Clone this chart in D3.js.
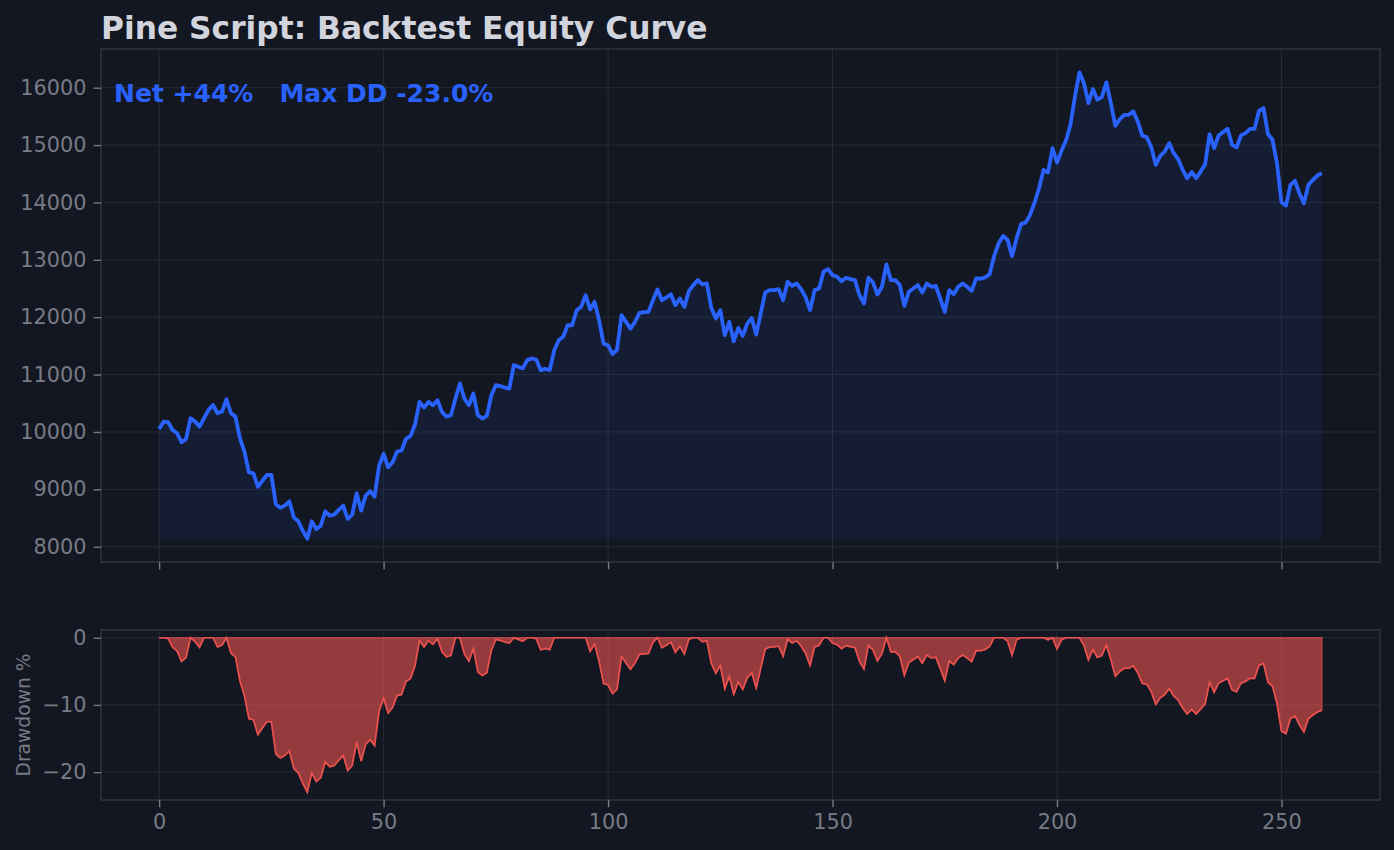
<!DOCTYPE html>
<html>
<head>
<meta charset="utf-8">
<script src="https://cdn.jsdelivr.net/npm/d3@7"></script>
<style>
  html, body { margin: 0; padding: 0; background: #131722; }
  svg { display: block; }
</style>
</head>
<body>
<svg id="chart" width="1394" height="850"></svg>
<script>
// equity per bar
var equity = [
  10052, 10180, 10170, 10035, 9977, 9820, 9878, 10240, 10180, 10093,
  10240, 10384, 10471, 10326, 10355, 10570, 10326, 10268, 9890, 9656,
  9296, 9279, 9045, 9150, 9250, 9250, 8740, 8680, 8716, 8792,
  8512, 8443, 8280, 8140, 8443, 8309, 8367, 8617, 8541, 8559,
  8641, 8716, 8483, 8559, 8931, 8629, 8890, 8966, 8873, 9415,
  9619, 9386, 9473, 9659, 9677, 9881, 9930, 10130, 10524, 10425,
  10524, 10466, 10553, 10349, 10268, 10291, 10582, 10844, 10582, 10466,
  10670, 10291, 10233, 10280, 10640, 10815, 10800, 10774, 10756, 11165,
  11135, 11107, 11252, 11281, 11263, 11077, 11100, 11080, 11420, 11600,
  11660, 11860, 11860, 12122, 12180, 12384, 12134, 12268, 11948, 11540,
  11511, 11354, 11435, 12035, 11918, 11802, 11918, 12076, 12087, 12093,
  12297, 12483, 12297, 12344, 12400, 12210, 12326, 12180, 12454, 12559,
  12646, 12570, 12588, 12163, 11977, 12122, 11686, 11918, 11581, 11813,
  11674, 11889, 11988, 11697, 12064, 12431, 12472, 12472, 12489, 12297,
  12617, 12547, 12588, 12490, 12350, 12122, 12472, 12501, 12792, 12838,
  12734, 12705, 12629, 12687, 12664, 12646, 12384, 12239, 12687, 12606,
  12396, 12530, 12920, 12646, 12646, 12559, 12198, 12443, 12501, 12559,
  12431, 12588, 12530, 12545, 12326, 12093, 12472, 12402, 12530, 12588,
  12530, 12460, 12676, 12670, 12693, 12751, 13066, 13287, 13415, 13345,
  13066, 13374, 13624, 13648, 13782, 13997, 14248, 14568, 14521, 14946,
  14696, 14900, 15080, 15354, 15848, 16268, 16081, 15732, 15977, 15790,
  15837, 16093, 15732, 15336, 15453, 15528, 15528, 15587, 15412, 15162,
  15138, 14964, 14655, 14812, 14888, 15034, 14859, 14754, 14568, 14422,
  14530, 14422, 14538, 14667, 15191, 14946, 15168, 15226, 15284, 15004,
  14958, 15168, 15209, 15284, 15284, 15598, 15645, 15191, 15092, 14684,
  14003, 13945, 14306, 14376, 14160, 13986, 14306, 14393, 14469, 14510
];
var xTicks = [0, 50, 100, 150, 200, 250];
var eqTicks = [8000, 9000, 10000, 11000, 12000, 13000, 14000, 15000, 16000];
var ddTicks = [0, -10, -20];
var titleText = "Pine Script: Backtest Equity Curve";
var ddLabel = "Drawdown %";

// drawdown % from running peak
var peak = -Infinity;
var drawdown = equity.map(function (v) {
  peak = Math.max(peak, v);
  return (v / peak - 1) * 100;
});
var bars = d3.range(equity.length);

var BG = "#131722", GRID = "#272b36", SPINE = "#2e323e", TICK = "#787b86";
var BLUE = "#2962ff", RED = "#ef5350";
var FONT = "DejaVu Sans, Verdana, sans-serif";

var svg = d3.select("#chart");
svg.append("rect").attr("width", 1394).attr("height", 850).attr("fill", BG);

var L = 101, R = 1380;
var top1 = 49, bot1 = 562, top2 = 630, bot2 = 800;

// matplotlib style 5% margins
function padded(lo, hi) {
  var m = (hi - lo) * 0.05;
  return [lo - m, hi + m];
}
var x = d3.scaleLinear().domain(padded(0, equity.length - 1)).range([L, R]);
var yEq = d3.scaleLinear().domain(padded(d3.min(equity), d3.max(equity))).range([bot1, top1]);
var yDd = d3.scaleLinear().domain(padded(d3.min(drawdown), 0)).range([bot2, top2]);

function grid(g, yScale, yVals, y0, y1) {
  g.selectAll(".gx").data(xTicks).enter().append("line")
    .attr("x1", function (d) { return x(d); }).attr("x2", function (d) { return x(d); })
    .attr("y1", y0).attr("y2", y1)
    .attr("stroke", GRID).attr("stroke-width", 1);
  g.selectAll(".gy").data(yVals).enter().append("line")
    .attr("x1", L).attr("x2", R)
    .attr("y1", function (d) { return yScale(d); }).attr("y2", function (d) { return yScale(d); })
    .attr("stroke", GRID).attr("stroke-width", 1);
}

function styleAxis(g) {
  g.select(".domain").remove();
  g.selectAll(".tick line").attr("stroke", TICK).attr("stroke-width", 1.4);
  g.selectAll(".tick text").attr("fill", TICK).style("font-family", FONT).style("font-size", "20.8px");
}

// ---- equity panel
var p1 = svg.append("g");
grid(p1, yEq, eqTicks, top1, bot1);

var base = d3.min(equity);
p1.append("path")
  .datum(bars)
  .attr("d", d3.area()
    .x(function (i) { return x(i); })
    .y0(yEq(base))
    .y1(function (i) { return yEq(equity[i]); }))
  .attr("fill", BLUE).attr("fill-opacity", 0.08);

p1.append("path")
  .datum(bars)
  .attr("d", d3.line()
    .x(function (i) { return x(i); })
    .y(function (i) { return yEq(equity[i]); }))
  .attr("fill", "none").attr("stroke", BLUE).attr("stroke-width", 3.8)
  .attr("stroke-linejoin", "round").attr("stroke-linecap", "butt");

p1.append("rect").attr("x", L).attr("y", top1).attr("width", R - L).attr("height", bot1 - top1)
  .attr("fill", "none").attr("stroke", SPINE).attr("stroke-width", 1.6);

p1.append("g").attr("transform", "translate(" + L + ",0)")
  .call(d3.axisLeft(yEq).tickValues(eqTicks).tickSize(7.3).tickPadding(7.3).tickFormat(d3.format("d")))
  .call(styleAxis);
p1.append("g").attr("transform", "translate(0," + bot1 + ")")
  .call(d3.axisBottom(x).tickValues(xTicks).tickSize(7.3).tickFormat(""))
  .call(styleAxis);

var net = equity[equity.length - 1] / equity[0] - 1;
var maxDd = d3.min(drawdown);
p1.append("text")
  .attr("x", 114).attr("y", 102)
  .attr("fill", BLUE)
  .style("font-family", FONT).style("font-weight", "bold").style("font-size", "25px")
  .attr("xml:space", "preserve")
  .text("Net " + d3.format("+.0%")(net) + "   Max DD " + d3.format(".1f")(maxDd).replace("\u2212", "-") + "%");

svg.append("text")
  .attr("x", L).attr("y", 39)
  .attr("fill", "#d1d4dc")
  .style("font-family", FONT).style("font-weight", "bold").style("font-size", "31.3px")
  .text(titleText);

// ---- drawdown panel
var p2 = svg.append("g");
grid(p2, yDd, ddTicks, top2, bot2);

p2.append("path")
  .datum(bars)
  .attr("d", d3.area()
    .x(function (i) { return x(i); })
    .y0(yDd(0))
    .y1(function (i) { return yDd(drawdown[i]); }))
  .attr("fill", RED).attr("fill-opacity", 0.6)
  .attr("stroke", RED).attr("stroke-opacity", 0.6).attr("stroke-width", 1.5);

p2.append("path")
  .datum(bars)
  .attr("d", d3.line()
    .x(function (i) { return x(i); })
    .y(function (i) { return yDd(drawdown[i]); }))
  .attr("fill", "none").attr("stroke", RED).attr("stroke-width", 1.6).attr("stroke-opacity", 0.9);

p2.append("rect").attr("x", L).attr("y", top2).attr("width", R - L).attr("height", bot2 - top2)
  .attr("fill", "none").attr("stroke", SPINE).attr("stroke-width", 1.6);

p2.append("g").attr("transform", "translate(" + L + ",0)")
  .call(d3.axisLeft(yDd).tickValues(ddTicks).tickSize(7.3).tickPadding(7.3)
    .tickFormat(function (d) { return d < 0 ? "\u2212" + Math.abs(d) : String(d); }))
  .call(styleAxis);
p2.append("g").attr("transform", "translate(0," + bot2 + ")")
  .call(d3.axisBottom(x).tickValues(xTicks).tickSize(7.3).tickPadding(7.3).tickFormat(d3.format("d")))
  .call(styleAxis);

svg.append("text")
  .attr("transform", "translate(30," + ((top2 + bot2) / 2) + ") rotate(-90)")
  .attr("text-anchor", "middle")
  .attr("fill", TICK)
  .style("font-family", FONT).style("font-size", "18.7px")
  .text(ddLabel);
</script>
</body>
</html>
